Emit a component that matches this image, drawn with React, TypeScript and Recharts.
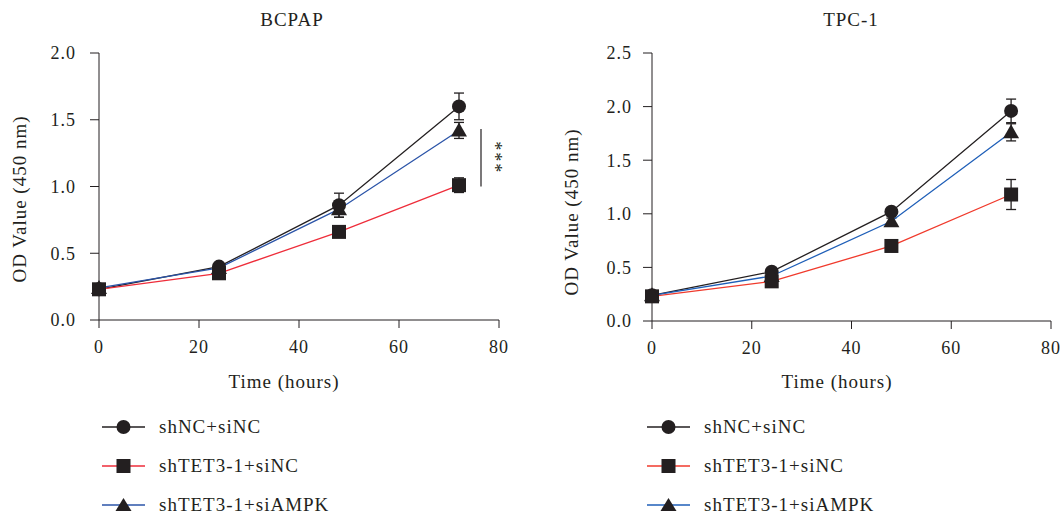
import React from 'react';
import { LineChart, Line, XAxis, YAxis, ErrorBar, ReferenceLine } from 'recharts';

const times = [0, 24, 48, 72];
const seriesNames = ['shNC+siNC', 'shTET3-1+siNC', 'shTET3-1+siAMPK'];
const xTicks = [0, 20, 40, 60, 80];
const bcpapTicks = [0, 0.5, 1, 1.5, 2];
const tpcTicks = [0, 0.5, 1, 1.5, 2, 2.5];

const bcpapNC = [0.23, 0.4, 0.86, 1.6];
const bcpapNCErr = [0.02, 0.02, 0.09, 0.1];
const bcpapTET = [0.23, 0.35, 0.66, 1.01];
const bcpapTETErr = [0.02, 0.02, 0.03, 0.055];
const bcpapAMPK = [0.24, 0.39, 0.83, 1.42];
const bcpapAMPKErr = [0.02, 0.02, 0.06, 0.06];

const tpcNC = [0.24, 0.46, 1.02, 1.96];
const tpcNCErr = [0.02, 0.03, 0.03, 0.11];
const tpcTET = [0.23, 0.37, 0.7, 1.18];
const tpcTETErr = [0.02, 0.02, 0.03, 0.14];
const tpcAMPK = [0.24, 0.42, 0.93, 1.76];
const tpcAMPKErr = [0.02, 0.02, 0.03, 0.08];

const build = (nc: number[], ncE: number[], tet: number[], tetE: number[], ampk: number[], ampkE: number[]) =>
  times.map((t, i) => ({ time: t, nc: nc[i], ncErr: ncE[i], tet: tet[i], tetErr: tetE[i], ampk: ampk[i], ampkErr: ampkE[i] }));

const bcpapData = build(bcpapNC, bcpapNCErr, bcpapTET, bcpapTETErr, bcpapAMPK, bcpapAMPKErr);
const tpcData = build(tpcNC, tpcNCErr, tpcTET, tpcTETErr, tpcAMPK, tpcAMPKErr);

const INK = '#231f20';
const FONT = '"Liberation Serif", "Times New Roman", serif';
const colors = ['#231f20', '#ee2d3a', '#2b54a8'];
const colorsR = ['#231f20', '#f03a2c', '#1f5fb8'];

const circleDot = (p: any) => <circle key={`c${p.index}`} cx={p.cx} cy={p.cy} r={7} fill={INK} />;
const squareDot = (p: any) => <rect key={`s${p.index}`} x={p.cx - 7} y={p.cy - 7} width={14} height={14} fill={INK} />;
const triDot = (p: any) => (
  <polygon key={`t${p.index}`} points={`${p.cx},${p.cy - 8} ${p.cx + 8},${p.cy + 6} ${p.cx - 8},${p.cy + 6}`} fill={INK} />
);
const dots = [circleDot, squareDot, triDot];

const tickStyle = { fontFamily: FONT, fontSize: 18, fill: INK, letterSpacing: 1 };
const textStyle: React.CSSProperties = { fontFamily: FONT, fill: INK, letterSpacing: 1 } as any;

type PanelProps = {
  data: any[];
  ticks: number[];
  ymax: number;
  width: number;
  yAxisWidth: number;
  right: number;
  bottom: number;
  title: string;
  titleX: number;
  yLabelX: number;
  yLabelY: number;
  xLabelX: number;
  lineType: 'linear' | 'monotone';
  palette: string[];
  yTickMargin: number;
  sig?: boolean;
};

function Panel(p: PanelProps) {
  return (
    <LineChart width={p.width} height={400} data={p.data} margin={{ top: 53, right: p.right, bottom: p.bottom, left: 0 }}>
      <XAxis
        type="number"
        dataKey="time"
        domain={[0, 80]}
        ticks={xTicks}
        tickSize={8}
        tickMargin={12}
        height={60}
        stroke={INK}
        tick={tickStyle}
        tickLine={{ stroke: INK }}
        axisLine={{ stroke: INK }}
      />
      <YAxis
        type="number"
        domain={[0, p.ymax]}
        ticks={p.ticks}
        width={p.yAxisWidth}
        tickSize={9}
        tickMargin={p.yTickMargin}
        tickFormatter={(v: number) => v.toFixed(1)}
        stroke={INK}
        tick={tickStyle}
        tickLine={{ stroke: INK }}
        axisLine={{ stroke: INK }}
      />
      <Line type={p.lineType} dataKey="nc" name={seriesNames[0]} stroke={p.palette[0]} strokeWidth={1.3} dot={dots[0]} isAnimationActive={false}>
        <ErrorBar dataKey="ncErr" direction="y" width={5} stroke={INK} strokeWidth={1.3} />
      </Line>
      <Line type={p.lineType} dataKey="tet" name={seriesNames[1]} stroke={p.palette[1]} strokeWidth={1.3} dot={dots[1]} isAnimationActive={false}>
        <ErrorBar dataKey="tetErr" direction="y" width={5} stroke={INK} strokeWidth={1.3} />
      </Line>
      <Line type={p.lineType} dataKey="ampk" name={seriesNames[2]} stroke={p.palette[2]} strokeWidth={1.3} dot={dots[2]} isAnimationActive={false}>
        <ErrorBar dataKey="ampkErr" direction="y" width={5} stroke={INK} strokeWidth={1.3} />
      </Line>
      {p.sig && (
        <ReferenceLine
          segment={[{ x: 76.4, y: 1.0 }, { x: 76.4, y: 1.43 }]}
          stroke={INK}
          strokeWidth={1.2}
          label={(lp: any) => {
            const vb = lp.viewBox || {};
            const cx = (vb.x ?? 0) + 14;
            const cy = (vb.y ?? 0) + (vb.height ?? 0) / 2;
            return (
              <text
                x={cx}
                y={cy}
                textAnchor="middle"
                dominantBaseline="central"
                transform={`rotate(90, ${cx}, ${cy})`}
                style={{ fontFamily: FONT, fontSize: 18, fill: INK, letterSpacing: 2 }}
              >
                ***
              </text>
            );
          }}
        />
      )}
      <text x={p.titleX} y={26} textAnchor="middle" style={{ ...textStyle, fontSize: 19 }}>
        {p.title}
      </text>
      <text x={p.xLabelX} y={388} textAnchor="middle" style={{ ...textStyle, fontSize: 19 }}>
        Time (hours)
      </text>
      <text
        x={p.yLabelX}
        y={p.yLabelY}
        textAnchor="middle"
        dominantBaseline="central"
        transform={`rotate(-90, ${p.yLabelX}, ${p.yLabelY})`}
        style={{ ...textStyle, fontSize: 19 }}
      >
        OD Value (450 nm)
      </text>
    </LineChart>
  );
}

function LegendBlock({ left, palette }: { left: number; palette: string[] }) {
  const rowsY = [427, 466, 505];
  return (
    <>
      {seriesNames.map((name, i) => (
        <div key={name} style={{ position: 'absolute', left, top: rowsY[i] - 15, height: 30, display: 'flex', alignItems: 'center' }}>
          <svg width={44} height={30} style={{ display: 'block' }}>
            <line x1={0} y1={15} x2={43} y2={15} stroke={palette[i]} strokeWidth={1.6} />
            {i === 0 && <circle cx={21.5} cy={15} r={7} fill={INK} />}
            {i === 1 && <rect x={14.5} y={8} width={14} height={14} fill={INK} />}
            {i === 2 && <polygon points="21.5,8 29.5,21 13.5,21" fill={INK} />}
          </svg>
          <span style={{ marginLeft: 13, fontFamily: FONT, fontSize: 19, letterSpacing: 1, color: INK, whiteSpace: 'nowrap' }}>{name}</span>
        </div>
      ))}
    </>
  );
}

export default function App() {
  return (
    <div style={{ position: 'absolute', left: 0, top: 0, width: 1063, height: 520, background: '#fff', overflow: 'hidden' }}>
      <div style={{ position: 'absolute', left: 0, top: 0 }}>
        <Panel
          data={bcpapData}
          ticks={bcpapTicks}
          ymax={2}
          width={530}
          yAxisWidth={99}
          right={31}
          bottom={20}
          title="BCPAP"
          titleX={292}
          yLabelX={19}
          yLabelY={199}
          xLabelX={284}
          lineType="linear"
          palette={colors}
          yTickMargin={14}
          sig
        />
      </div>
      <div style={{ position: 'absolute', left: 530, top: 0 }}>
        <Panel
          data={tpcData}
          ticks={tpcTicks}
          ymax={2.5}
          width={533}
          yAxisWidth={122}
          right={12}
          bottom={19}
          title="TPC-1"
          titleX={321}
          yLabelX={41}
          yLabelY={212}
          xLabelX={307}
          lineType="linear"
          palette={colorsR}
          yTickMargin={11}
        />
      </div>
      <LegendBlock left={102} palette={colors} />
      <LegendBlock left={647} palette={colorsR} />
    </div>
  );
}
